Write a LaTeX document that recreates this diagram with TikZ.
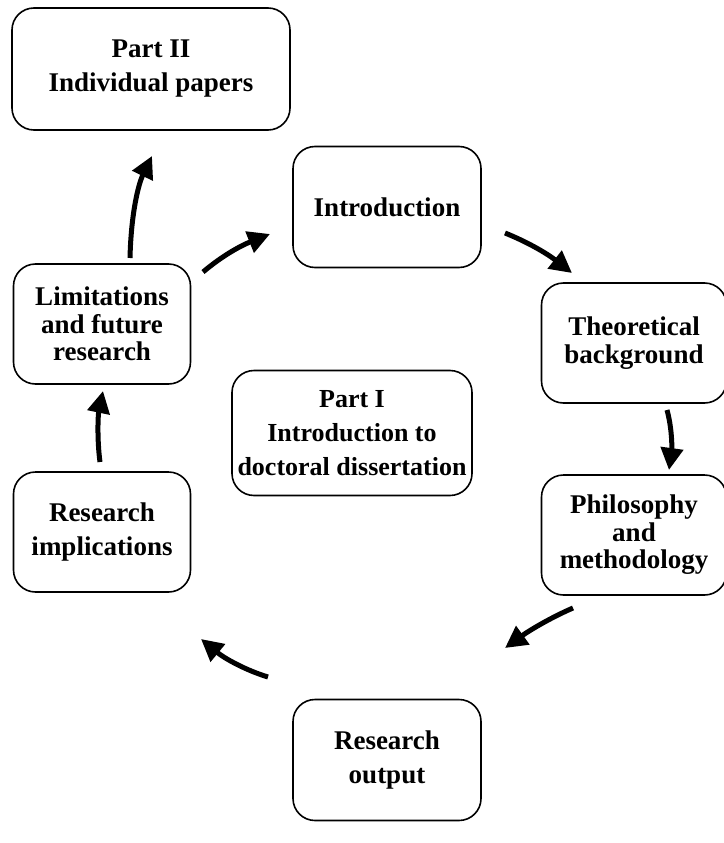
\documentclass[tikz,border=0pt]{standalone}
\usepackage{fontspec}
\setmainfont{Liberation Serif}
\usetikzlibrary{arrows.meta}
\begin{document}
\begin{tikzpicture}[x=1pt,y=-1pt,
  box/.style={draw,line width=1.6pt,rounded corners=22pt,align=center,
    font=\bfseries\fontsize{27}{34}\selectfont,inner sep=0pt},
  tight/.style={font=\bfseries\fontsize{27}{27.5}\selectfont},
  arr/.style={line width=5pt,-{Triangle[length=22pt,width=22pt]}}]
\useasboundingbox (0,0) rectangle (723,843);
\node[box,minimum width=278,minimum height=122] (p2) at (151,69) {Part II\\Individual papers};
\node[box,minimum width=188,minimum height=121] (intro) at (387,207) {Introduction};
\node[box,tight,minimum width=177,minimum height=120] (lim) at (102,324) {Limitations\\and future\\research};
\node[box,tight,minimum width=185,minimum height=120] (theo) at (634,343) {Theoretical\\background};
\node[box,font=\bfseries\fontsize{26}{34}\selectfont,minimum width=240,minimum height=125] (p1) at (352,433) {Part I\\Introduction to\\doctoral dissertation};
\node[box,tight,minimum width=185,minimum height=120] (phil) at (634,535) {Philosophy\\and\\methodology};
\node[box,minimum width=177,minimum height=120] (ri) at (102,532) {Research\\implications};
\node[box,minimum width=188,minimum height=121] (ro) at (387,760) {Research\\output};
\coordinate (a1s) at (130,258); \coordinate (a1e) at (152,156);
\coordinate (a2s) at (203,272); \coordinate (a2e) at (270,234);
\coordinate (a3s) at (505,233); \coordinate (a3e) at (572,273);
\coordinate (a4s) at (667,410); \coordinate (a4e) at (669,470);
\coordinate (a5s) at (573,608); \coordinate (a5e) at (505,648);
\coordinate (a6s) at (268,677); \coordinate (a6e) at (201,639);
\coordinate (a7s) at (100,462); \coordinate (a7e) at (103,391);
\draw[arr] (a1s) .. controls (131,215) and (138,185) .. (a1e);
\draw[arr] (a2s) .. controls (222,256) and (240,246) .. (a2e);
\draw[arr] (a3s) .. controls (525,241) and (545,252) .. (a3e);
\draw[arr] (a4s) .. controls (672,428) and (672,448) .. (a4e);
\draw[arr] (a5s) .. controls (552,617) and (530,630) .. (a5e);
\draw[arr] (a6s) .. controls (245,670) and (224,658) .. (a6e);
\draw[arr] (a7s) .. controls (97,440) and (98,415) .. (a7e);
\end{tikzpicture}
\end{document}
